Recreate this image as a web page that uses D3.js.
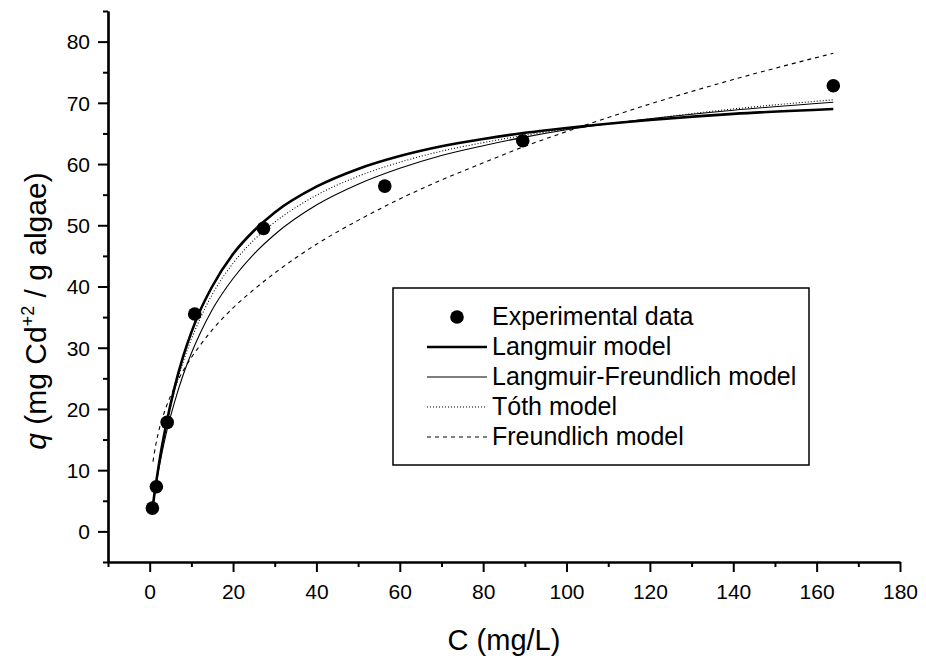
<!DOCTYPE html>
<html>
<head>
<meta charset="utf-8">
<script src="https://cdn.jsdelivr.net/npm/d3@7"></script>
<style>
  html, body { margin: 0; padding: 0; background: #fff; }
  svg { display: block; font-family: "Liberation Sans", Arial, Helvetica, sans-serif; }
</style>
</head>
<body>
<svg id="chart" width="926" height="662"></svg>
<script>
// ---------- data ----------
const expC = [0.65, 1.6, 4.2, 10.8, 27.3, 56.4, 89.5, 164.0];
const expQ = [3.8, 7.3, 17.8, 35.5, 49.5, 56.4, 63.8, 72.8];

const modelC = [0.6, 1, 2, 3, 4, 6, 8, 10, 12, 15, 20, 25, 30, 40, 50, 60, 70, 80, 90, 100, 120, 140, 164];
const langmuirQ = [3.3, 5.4, 10.0, 14.1, 17.6, 23.6, 28.5, 32.5, 35.9, 40.0, 45.3, 49.1, 52.1, 56.3, 59.2, 61.3, 62.9, 64.1, 65.1, 65.9, 67.2, 68.2, 69.0];
const langFreundQ = [3.5, 5.4, 9.5, 13.0, 16.1, 21.2, 25.5, 29.1, 32.2, 36.2, 41.3, 45.3, 48.5, 53.3, 56.7, 59.3, 61.4, 63.0, 64.4, 65.6, 67.4, 68.8, 70.1];
const tothQ = [3.6, 5.6, 10.0, 13.9, 17.3, 23.0, 27.6, 31.4, 34.6, 38.7, 43.8, 47.6, 50.5, 54.9, 58.0, 60.3, 62.1, 63.5, 64.7, 65.7, 67.4, 69.0, 70.5];

const freundC = [0.8, 1, 2, 3, 4, 6, 8, 10, 12, 15, 20, 25, 30, 40, 50, 60, 70, 80, 90, 100, 120, 140, 164];
const freundQ = [11.4, 12.3, 15.9, 18.4, 20.4, 23.6, 26.2, 28.4, 30.3, 32.9, 36.5, 39.5, 42.2, 46.9, 50.8, 54.3, 57.4, 60.2, 62.9, 65.3, 69.8, 73.8, 78.1];

const xMajor = [0, 20, 40, 60, 80, 100, 120, 140, 160, 180];
const xMinor = [-10, 10, 30, 50, 70, 90, 110, 130, 150, 170];
const yMajor = [0, 10, 20, 30, 40, 50, 60, 70, 80];
const yMinor = [-5, 5, 15, 25, 35, 45, 55, 65, 75, 85];

const legendLabels = ["Experimental data", "Langmuir model", "Langmuir-Freundlich model", "Tóth model", "Freundlich model"];

// ---------- chart ----------
const svg = d3.select("#chart");
const x = d3.scaleLinear().domain([-10, 180]).range([108, 900]);
const y = d3.scaleLinear().domain([-5, 85]).range([562, 11]);

const zip = (cs, qs) => cs.map((c, i) => [c, qs[i]]);
const line = d3.line().x(d => x(d[0])).y(d => y(d[1])).curve(d3.curveMonotoneX);

const series = [
  { pts: zip(modelC, langmuirQ), w: 2.6, dash: null },
  { pts: zip(modelC, langFreundQ), w: 1.1, dash: null },
  { pts: zip(modelC, tothQ), w: 1.1, dash: "1,2" },
  { pts: zip(freundC, freundQ), w: 1.1, dash: "4,4" }
];

const gLines = svg.append("g");
series.forEach(s => {
  gLines.append("path")
    .attr("d", line(s.pts))
    .attr("fill", "none")
    .attr("stroke", "#000")
    .attr("stroke-width", s.w)
    .attr("stroke-dasharray", s.dash);
});

svg.append("g").selectAll("circle")
  .data(zip(expC, expQ))
  .join("circle")
  .attr("cx", d => x(d[0]))
  .attr("cy", d => y(d[1]))
  .attr("r", 6.8)
  .attr("fill", "#000");

// axes
function styleAxis(g) {
  g.selectAll("path.domain").attr("stroke", "#000").attr("stroke-width", 2.2);
  g.selectAll(".tick line").attr("stroke", "#000").attr("stroke-width", 2);
  g.selectAll(".tick text").attr("fill", "#000").style("font-size", "21px")
    .style("font-family", '"Liberation Sans", Arial, sans-serif');
}

const xAxisG = svg.append("g").attr("transform", "translate(0,562)")
  .call(d3.axisBottom(x).tickValues(xMajor).tickSize(10).tickSizeOuter(0).tickPadding(8).tickFormat(d3.format("d")));
styleAxis(xAxisG);
const xMinorG = svg.append("g").attr("transform", "translate(0,562)")
  .call(d3.axisBottom(x).tickValues(xMinor).tickSize(5).tickSizeOuter(0).tickFormat(""));
styleAxis(xMinorG);

const yAxisG = svg.append("g").attr("transform", "translate(108,0)")
  .call(d3.axisLeft(y).tickValues(yMajor).tickSize(10).tickSizeOuter(0).tickPadding(8).tickFormat(d3.format("d")));
styleAxis(yAxisG);
const yMinorG = svg.append("g").attr("transform", "translate(108,0)")
  .call(d3.axisLeft(y).tickValues(yMinor).tickSize(5).tickSizeOuter(0).tickFormat(""));
styleAxis(yMinorG);
xAxisG.selectAll(".tick text").attr("dy", "0.9em");
yAxisG.selectAll(".tick text").attr("dy", "0.35em");

// axis titles
svg.append("text")
  .attr("x", (x.range()[0] + x.range()[1]) / 2)
  .attr("y", 650)
  .attr("text-anchor", "middle")
  .style("font-size", "29px")
  .text("C (mg/L)");

const yt = svg.append("text")
  .attr("transform", "translate(46,311) rotate(-90)")
  .attr("text-anchor", "middle")
  .style("font-size", "30px");
yt.append("tspan").style("font-style", "italic").text("q");
yt.append("tspan").text(" (mg Cd");
yt.append("tspan").attr("dy", -12).style("font-size", "18px").text("+2");
yt.append("tspan").attr("dy", 12).text(" / g algae)");

// legend
const lg = svg.append("g");
lg.append("rect").attr("x", 393).attr("y", 288).attr("width", 416).attr("height", 177)
  .attr("fill", "#fff").attr("stroke", "#000").attr("stroke-width", 1.5);
const rowY = [317, 347, 377, 407, 437];
lg.append("circle").attr("cx", 457).attr("cy", rowY[0]).attr("r", 6.8).attr("fill", "#000");
series.forEach((s, i) => {
  lg.append("line").attr("x1", 427).attr("x2", 487)
    .attr("y1", rowY[i + 1]).attr("y2", rowY[i + 1])
    .attr("stroke", "#000").attr("stroke-width", s.w).attr("stroke-dasharray", s.dash);
});
legendLabels.forEach((t, i) => {
  lg.append("text").attr("x", 492).attr("y", rowY[i] + 8)
    .style("font-size", "25px").text(t);
});
</script>
</body>
</html>
